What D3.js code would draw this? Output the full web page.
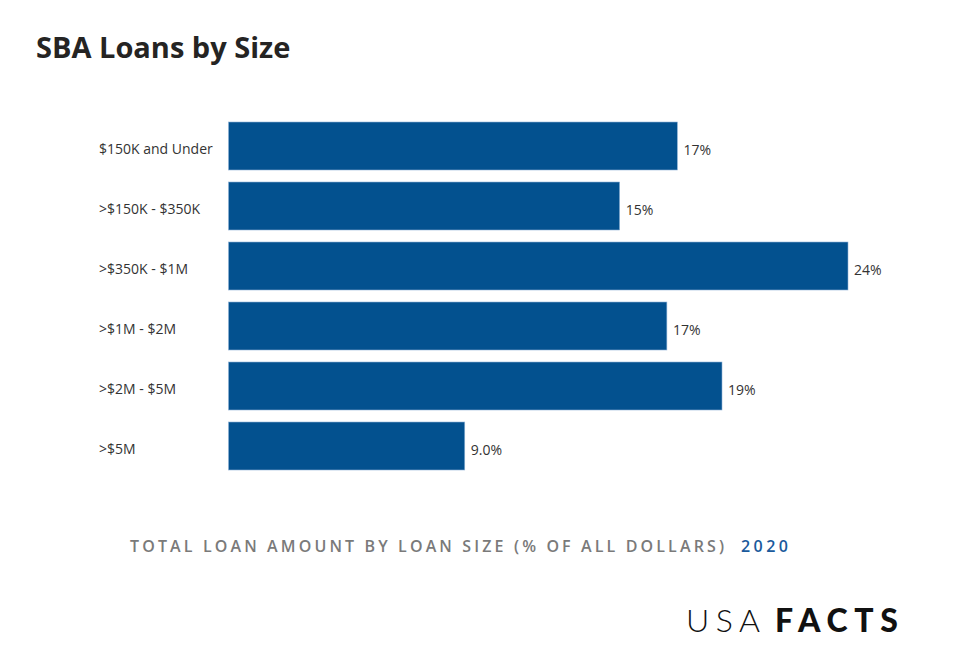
<!DOCTYPE html>
<html>
<head>
<meta charset="utf-8">
<script src="https://cdn.jsdelivr.net/npm/d3@7"></script>
<style>
  body { margin: 0; background: #ffffff; }
  text { font-family: 'Open Sans', 'Noto Sans', sans-serif; }
</style>
</head>
<body>
<div id="chart"></div>
<script>
const categories = ['$150K and Under', '>$150K - $350K', '>$350K - $1M', '>$1M - $2M', '>$2M - $5M', '>$5M'];
const shares = [17.1, 14.9, 23.6, 16.7, 18.8, 9.0];
const valueLabels = ['17%', '15%', '24%', '17%', '19%', '9.0%'];

const rows = categories.map((c, i) => ({ category: c, share: shares[i], label: valueLabels[i] }));

const width = 967, height = 666;

const svg = d3
  .select('#chart')
  .append('svg')
  .attr('width', width)
  .attr('height', height);

// title
svg
  .append('text')
  .attr('x', 36)
  .attr('y', 58)
  .attr('fill', '#252423')
  .style('font-size', '29px')
  .style('font-weight', '700')
  .text('SBA Loans by Size');

// scales
const x = d3.scaleLinear().domain([0, 25]).range([228.5, 228.5 + 25 * 26.25]);
const y = d3
  .scaleBand()
  .domain(categories)
  .range([116, 476])
  .paddingInner(0.2)
  .paddingOuter(0.1);

// category labels
svg
  .append('g')
  .attr('transform', 'translate(99,4)')
  .call(d3.axisLeft(y).tickSize(0).tickPadding(0))
  .call((g) => g.select('.domain').remove())
  .selectAll('text')
  .attr('text-anchor', 'start')
  .attr('fill', '#333333')
  .style('font-size', '14px');

// bars
svg
  .append('g')
  .selectAll('rect')
  .data(rows)
  .join('rect')
  .attr('x', x(0))
  .attr('y', (d) => y(d.category))
  .attr('width', (d) => x(d.share) - x(0))
  .attr('height', y.bandwidth())
  .attr('fill', '#03518f')
  .attr('stroke', '#8fb3d6')
  .attr('stroke-width', 0.6);

// value labels
svg
  .append('g')
  .selectAll('text')
  .data(rows)
  .join('text')
  .attr('x', (d) => x(d.share) + 6)
  .attr('y', (d) => y(d.category) + y.bandwidth() / 2 + 4)
  .attr('dy', '0.35em')
  .attr('fill', '#333333')
  .style('font-size', '14px')
  .text((d) => d.label);

// caption
const caption = svg
  .append('text')
  .attr('y', 552)
  .style('font-size', '16px')
  .style('font-weight', '600');

caption
  .append('tspan')
  .attr('x', 130)
  .attr('fill', '#7a7a7a')
  .attr('textLength', 594)
  .attr('lengthAdjust', 'spacing')
  .text('TOTAL LOAN AMOUNT BY LOAN SIZE (% OF ALL DOLLARS)');

caption
  .append('tspan')
  .attr('x', 741)
  .attr('fill', '#1a5a9c')
  .attr('textLength', 47)
  .attr('lengthAdjust', 'spacing')
  .text('2020');

// logo
const logo = svg
  .append('text')
  .attr('y', 632)
  .attr('fill', '#111111')
  .style('font-size', '32px')
  .style('font-family', "'Lato', 'Open Sans', sans-serif");

logo
  .append('tspan')
  .attr('x', 686)
  .attr('textLength', 74)
  .attr('lengthAdjust', 'spacing')
  .style('font-weight', '300')
  .text('USA');

logo
  .append('tspan')
  .attr('x', 775)
  .attr('textLength', 123)
  .attr('lengthAdjust', 'spacing')
  .style('font-weight', '900')
  .text('FACTS');
</script>
</body>
</html>
